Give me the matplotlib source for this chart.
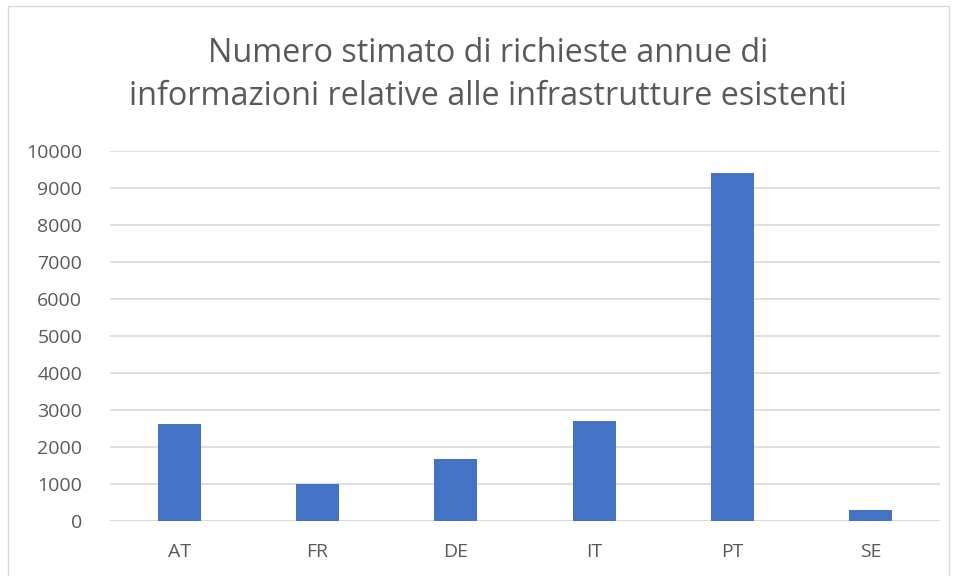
import matplotlib
matplotlib.use("Agg")
import matplotlib.pyplot as plt
from matplotlib.patches import Rectangle
from matplotlib import font_manager

countries = ["AT", "FR", "DE", "IT", "PT", "SE"]
requests = [2630, 1000, 1680, 2710, 9410, 310]
yticks = [0, 1000, 2000, 3000, 4000, 5000, 6000, 7000, 8000, 9000, 10000]
title = "Numero stimato di richieste annue di\ninformazioni relative alle infrastrutture esistenti"

names = {f.name for f in font_manager.fontManager.ttflist}
fam = "Liberation Sans Narrow" if "Liberation Sans Narrow" in names else "Open Sans"
plt.rcParams['font.family'] = [fam, 'DejaVu Sans']

W, H = 957, 576
fig = plt.figure(figsize=(W/100, H/100), dpi=100)
fig.patch.set_facecolor("white")
fig.add_artist(Rectangle((8/W, -0.01), (949-8)/W, 1.01 - 6/H, transform=fig.transFigure,
                         fill=False, edgecolor="#D9D9D9", linewidth=1))

left, right, top, bottom = 110, 940, 151, 521
ax = fig.add_axes([left/W, 1-bottom/H, (right-left)/W, (bottom-top)/H])
x = range(len(countries))
ax.bar(x, requests, width=0.31, color="#4472C4", zorder=3)
ax.set_xlim(-0.5, len(countries)-0.5)
ax.set_ylim(0, 10000)
ax.set_yticks(yticks)
ax.set_yticklabels([str(v) for v in yticks])
ax.set_xticks(list(x))
ax.set_xticklabels(countries)
ax.grid(axis="y", color="#D9D9D9", linewidth=1.2, zorder=0)
ax.tick_params(axis="both", length=0, labelsize=14, colors="#595959")
ax.tick_params(axis="x", pad=16)
ax.tick_params(axis="y", pad=20)
for s in ax.spines.values():
    s.set_visible(False)
ax.axhline(0, color="#D9D9D9", linewidth=1.2, zorder=1)

fig.text(488/W, 1-75/H, title, ha="center", va="center", fontsize=23.3, color="#595959",
         linespacing=1.38)

fig.savefig("out.png", dpi=100)
